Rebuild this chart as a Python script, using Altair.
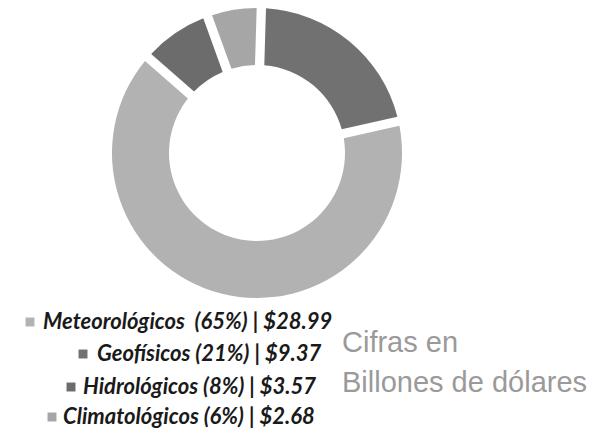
import altair as alt
import pandas as pd

# ---- data ----
categories = ["Geofísicos", "Meteorológicos", "Hidrológicos", "Climatológicos"]
values = [9.37, 28.99, 3.57, 2.68]
percents = [21, 65, 8, 6]
colors = ["#717171", "#b2b2b2", "#6c6c6c", "#a6a6a6"]

legend_order = ["Meteorológicos", "Geofísicos", "Hidrológicos", "Climatológicos"]
legend_sep = ["\u00a0\u00a0", " ", " ", " "]

note_lines = ["Cifras en", "Billones de dólares"]

# ---- layout (pixels inside the view) ----
W, H = 584, 423
CX, CY = 249, 145
R_IN, R_OUT = 88, 145
OFFSET = 0.03
legend_sq_x = [22, 75, 63, 44]
legend_tx_x = [35, 89, 75, 55]
legend_y = [314, 346, 379, 409]

df = pd.DataFrame({"cat": categories, "val": values, "idx": range(len(categories))})

donut = alt.Chart(df).mark_arc(
    innerRadius=R_IN, outerRadius=R_OUT, padAngle=0.055
).encode(
    theta=alt.Theta("val:Q", stack=True,
                    scale=alt.Scale(range=[OFFSET, 2 * 3.141592653589793 + OFFSET])),
    color=alt.Color("cat:N", scale=alt.Scale(domain=categories, range=colors), legend=None),
    order=alt.Order("idx:Q"),
    x=alt.value(CX),
    y=alt.value(CY),
)

val_map = dict(zip(categories, values))
pct_map = dict(zip(categories, percents))
leg = pd.DataFrame({
    "cat": legend_order,
    "label": [f"{c}{s}({pct_map[c]}%) | ${val_map[c]:.2f}" for c, s in zip(legend_order, legend_sep)],
    "sx": legend_sq_x,
    "tx": legend_tx_x,
    "y": legend_y,
})

squares = alt.Chart(leg).mark_square(size=80, opacity=1).encode(
    x=alt.X("sx:Q", scale=None, axis=None),
    y=alt.Y("y:Q", scale=None, axis=None),
    color=alt.Color("cat:N", scale=alt.Scale(domain=categories, range=colors), legend=None),
)

texts = alt.Chart(leg).mark_text(
    align="left", baseline="middle", font="Lato",
    fontSize=22, fontWeight="bold", fontStyle="italic", color="#1a1a1a"
).encode(
    x=alt.X("tx:Q", scale=None, axis=None),
    y=alt.Y("y:Q", scale=None, axis=None),
    text="label:N",
)

note = alt.Chart(pd.DataFrame({"t": [note_lines]})).mark_text(
    align="left", baseline="alphabetic", font="Liberation Sans, Arial, sans-serif",
    fontSize=29, color="#9a9a9a", lineHeight=40
).encode(
    x=alt.value(334), y=alt.value(344), text="t"
)

chart = alt.layer(donut, squares, texts, note).properties(
    width=W, height=H, padding=0,
    autosize=alt.AutoSizeParams(type="none"),
).configure_view(stroke=None)

chart.save("out.html", embed_options={"renderer": "svg", "actions": False})
